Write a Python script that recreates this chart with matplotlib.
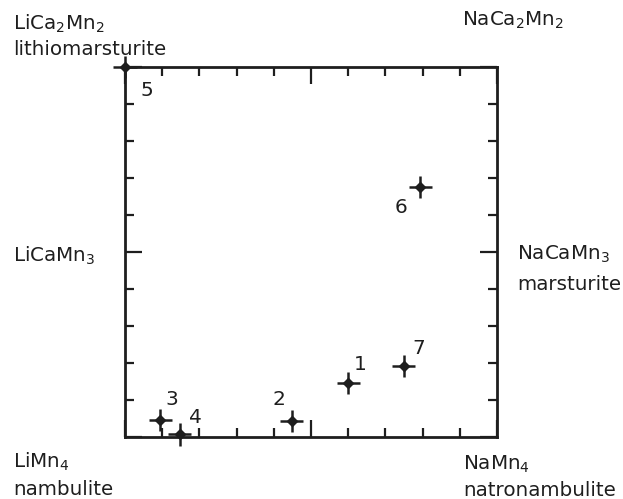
import matplotlib
matplotlib.use("Agg")
import matplotlib.pyplot as plt
from matplotlib.ticker import MultipleLocator

plt.rcParams['font.family'] = ['DejaVu Sans']
plt.rcParams['mathtext.default'] = 'regular'

# Data: Na fraction (x) and Ca content (y) for analyses 1-7
labels = ["1", "2", "3", "4", "5", "6", "7"]
na = [0.600, 0.448, 0.095, 0.147, 0.0, 0.794, 0.749]
ca = [0.294, 0.085, 0.094, 0.014, 2.0, 1.351, 0.382]
# label offsets (pixels) relative to each point
label_dx = [6, -19, 5, 9, 15, -26, 9]
label_dy = [13, 16, 15, 11, -29, -26, 12]

W, H = 623, 499
fig = plt.figure(figsize=(W / 100, H / 100), dpi=100)
ax = fig.add_axes([125 / W, 1 - 437 / H, (497 - 125) / W, (437 - 67) / H])
ax.set_xlim(0, 1)
ax.set_ylim(0, 2)

ink = '#1e1e1e'
for s in ax.spines.values():
    s.set_linewidth(2.0)
    s.set_color(ink)

ax.xaxis.set_major_locator(MultipleLocator(0.5))
ax.xaxis.set_minor_locator(MultipleLocator(0.1))
ax.yaxis.set_major_locator(MultipleLocator(1.0))
ax.yaxis.set_minor_locator(MultipleLocator(0.2))
ax.tick_params(which='both', direction='in', top=True, right=True,
               labelbottom=False, labelleft=False, color=ink, width=1.6)
ax.tick_params(which='major', length=12)
ax.tick_params(which='minor', length=6.5)

ax.errorbar(na, ca, xerr=0.031, yerr=0.06, fmt='D', ms=5, color=ink,
            ecolor=ink, elinewidth=1.8, capsize=0, clip_on=False, zorder=5)

for lab, x, y, dx, dy in zip(labels, na, ca, label_dx, label_dy):
    ax.annotate(lab, (x, y), xytext=(dx, dy), textcoords='offset pixels',
                fontsize=14.5, color=ink, ha='left', va='baseline',
                annotation_clip=False)

fs = 14.3
def ftext(px, py, s):
    fig.text(px / W, 1 - py / H, s, fontsize=fs, color=ink,
             ha='left', va='baseline')

ftext(13, 30, r'$\mathregular{LiCa_2Mn_2}$')
ftext(13, 55, 'lithiomarsturite')
ftext(462, 26, r'$\mathregular{NaCa_2Mn_2}$')
ftext(13, 262, r'$\mathregular{LiCaMn_3}$')
ftext(517, 260, r'$\mathregular{NaCaMn_3}$')
ftext(517, 290, 'marsturite')
ftext(13, 468, r'$\mathregular{LiMn_4}$')
ftext(13, 495, 'nambulite')
ftext(463, 470, r'$\mathregular{NaMn_4}$')
ftext(463, 496, 'natronambulite')

fig.savefig('out.png', dpi=100)
